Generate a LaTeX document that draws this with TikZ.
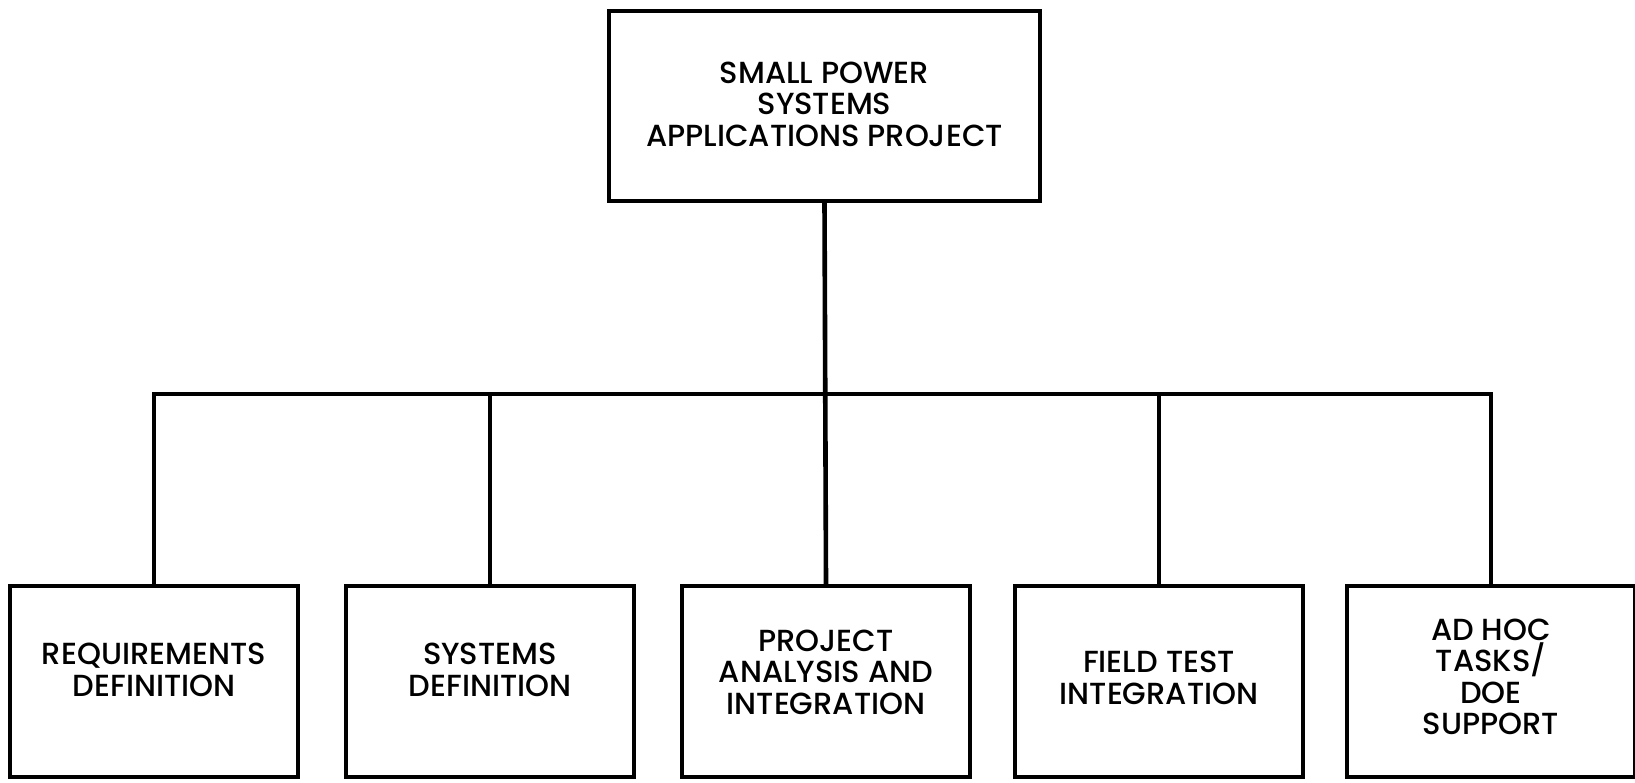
\documentclass[tikz,border=0pt]{standalone}
\usepackage{fontspec}
\setmainfont{Poppins}[UprightFont={* Medium}]
\begin{document}
\begin{tikzpicture}[x=1pt,y=-1pt,
  box/.style={draw=black, line width=4.6pt, minimum width=288pt, minimum height=191pt, inner sep=0pt},
  topbox/.style={box, minimum width=431pt, minimum height=190pt},
  lbl/.style={align=center, font=\fontsize{30.5}{31.5}\selectfont, text=black, inner sep=0pt},
  conn/.style={line width=4.6pt, line cap=rect, black}]
\useasboundingbox (0,0) rectangle (1635,782);
\node[topbox] (top) at (824.5,106) {};
\node[box] (b1) at (154,681.5) {};
\node[box] (b2) at (490,681.5) {};
\node[box] (b3) at (826,681.5) {};
\node[box] (b4) at (1159,681.5) {};
\node[box] (b5) at (1491,681.5) {};
\coordinate (bar) at (0,394);
\node[lbl] (ttop) at (824.5,104) {SMALL POWER\\SYSTEMS\\APPLICATIONS PROJECT};
\node[lbl] (t1) at (154,670) {REQUIREMENTS\\DEFINITION};
\node[lbl] (t2) at (490,670) {SYSTEMS\\DEFINITION};
\node[lbl] (t3) at (826,672) {PROJECT\\ANALYSIS AND\\INTEGRATION};
\node[lbl] (t4) at (1159,678) {FIELD TEST\\INTEGRATION};
\node[lbl] (t5) at (1491,677) {AD HOC\\TASKS/\\DOE\\SUPPORT};
\draw[conn] (top.south) -- (b3.north);
\draw[conn] (b1.north) -- (b1.north |- bar) -- (b5.north |- bar) -- (b5.north);
\draw[conn] (b2.north) -- (b2.north |- bar);
\draw[conn] (b4.north) -- (b4.north |- bar);
\end{tikzpicture}
\end{document}
